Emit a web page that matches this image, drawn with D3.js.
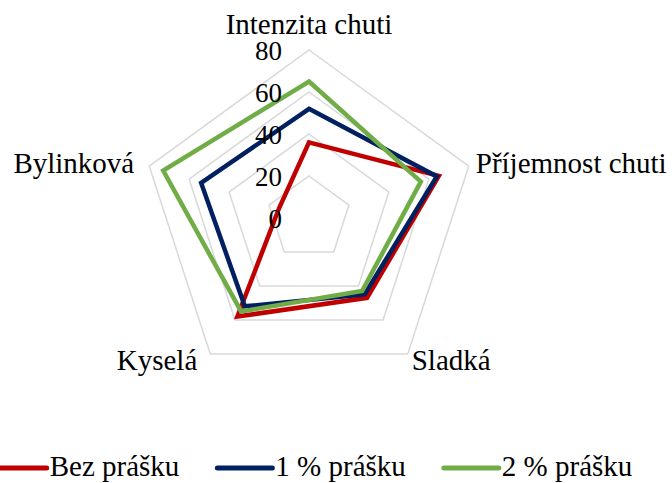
<!DOCTYPE html>
<html>
<head>
<meta charset="utf-8">
<script src="https://cdn.jsdelivr.net/npm/d3@7"></script>
<style>
  html, body { margin: 0; padding: 0; background: #fff; }
  svg { display: block; font-family: "Liberation Serif", "Times New Roman", serif; }
</style>
</head>
<body>
<svg id="chart" width="672" height="483"></svg>
<script>
// Sensory profile: five taste attributes, three powder levels
const categories = ["Intenzita chuti", "Příjemnost chuti", "Sladká", "Kyselá", "Bylinková"];
const seriesNames = ["Bez prášku", "1 % prášku", "2 % prášku"];
const bezPrasku = [36, 65, 47, 58, 15];
const jednoProcento = [52, 64, 45, 52, 54];
const dveProcenta = [65, 56, 43, 55, 73];
const tickValues = [0, 20, 40, 60, 80];
const colors = ["#c00000", "#002060", "#70ad47"];

const series = [bezPrasku, jednoProcento, dveProcenta];

const svg = d3.select("#chart");
const cx = 309, cy = 218, R = 168;

const r = d3.scaleLinear().domain([0, 80]).range([0, R]);
const angle = d3.scalePoint().domain(categories).range([0, 2 * Math.PI * (categories.length - 1) / categories.length]);

function pt(cat, v) {
  const a = angle(cat);
  return [cx + r(v) * Math.sin(a), cy - r(v) * Math.cos(a)];
}

const g = svg.append("g");

// grid pentagons
tickValues.filter(t => t > 0).forEach(t => {
  g.append("path")
    .attr("d", d3.line()(categories.map(c => pt(c, t))) + "Z")
    .attr("fill", "none")
    .attr("stroke", "#d9d9d9")
    .attr("stroke-width", 1.5);
});

// series polygons
series.forEach((vals, i) => {
  g.append("path")
    .attr("d", d3.line()(categories.map((c, j) => pt(c, vals[j]))) + "Z")
    .attr("fill", "none")
    .attr("stroke", colors[i])
    .attr("stroke-width", 4.5)
    .attr("stroke-linejoin", "miter");
});

// tick labels along the top axis
g.selectAll("text.tick")
  .data(tickValues)
  .join("text")
  .attr("class", "tick")
  .attr("x", cx - 27)
  .attr("y", d => cy - r(d) + 9.5)
  .attr("text-anchor", "end")
  .attr("font-size", 27)
  .attr("fill", "#000")
  .text(d => d);

// category labels
const labelPos = {
  "Intenzita chuti": { dx: 0, dy: -16, anchor: "middle" },
  "Příjemnost chuti": { dx: 7, dy: 7, anchor: "start" },
  "Sladká": { dx: 4, dy: 16, anchor: "start" },
  "Kyselá": { dx: -13, dy: 16, anchor: "end" },
  "Bylinková": { dx: -15, dy: 7, anchor: "end" }
};
categories.forEach(c => {
  const [x, y] = pt(c, 80);
  const p = labelPos[c];
  g.append("text")
    .attr("x", x + p.dx)
    .attr("y", y + p.dy)
    .attr("text-anchor", p.anchor)
    .attr("font-size", 29)
    .attr("fill", "#000")
    .text(c);
});

// legend
const legend = svg.append("g");
const lineLen = 55, gap = 3, itemGap = 38, legendY = 468;
const items = seriesNames.map((name, i) => {
  const it = legend.append("g");
  it.append("line")
    .attr("x1", 0).attr("x2", lineLen)
    .attr("y1", 0).attr("y2", 0)
    .attr("stroke", colors[i])
    .attr("stroke-width", 5)
    .attr("stroke-linecap", "round");
  const t = it.append("text")
    .attr("x", lineLen + gap)
    .attr("y", 8)
    .attr("font-size", 29)
    .attr("fill", "#000")
    .text(name);
  return { it, w: lineLen + gap + t.node().getComputedTextLength() };
});
const total = d3.sum(items, d => d.w) + itemGap * (items.length - 1);
let x0 = 312 - total / 2;
items.forEach(d => {
  d.it.attr("transform", `translate(${x0},${legendY})`);
  x0 += d.w + itemGap;
});
</script>
</body>
</html>
